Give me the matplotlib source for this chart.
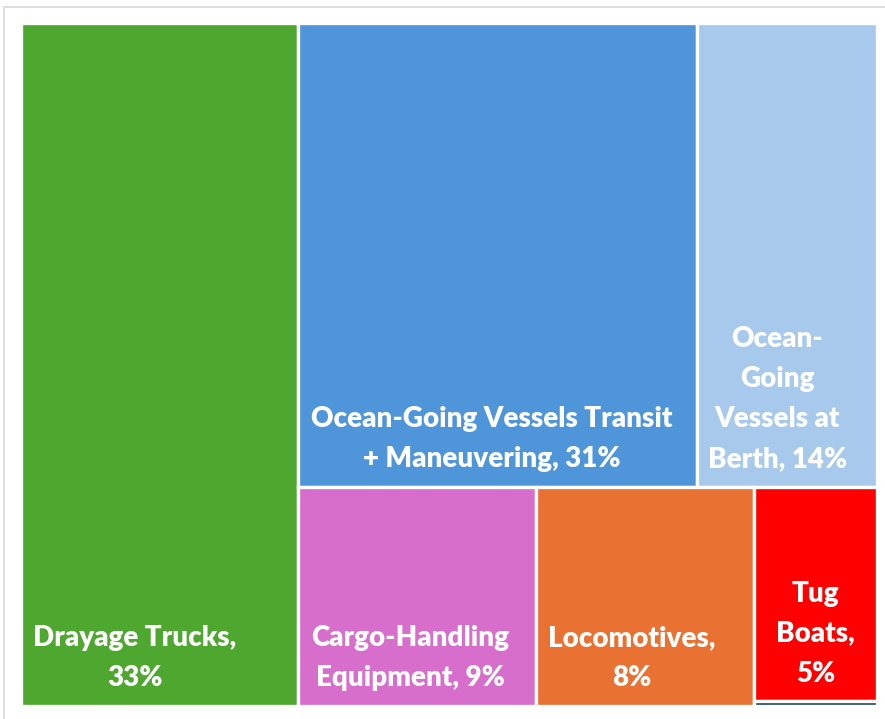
import matplotlib
matplotlib.use("Agg")
import matplotlib.pyplot as plt
from matplotlib.patches import Rectangle

# ---- data ----
categories = ["Drayage Trucks", "Ocean-Going Vessels Transit + Maneuvering",
              "Ocean-Going Vessels at Berth", "Cargo-Handling Equipment",
              "Locomotives", "Tug Boats", "Other"]
values = [32.4, 31.6, 14.3, 8.9, 8.2, 4.5, 0.1]
pct_labels = ["33%", "31%", "14%", "9%", "8%", "5%", None]
labels = ["Drayage Trucks,\n{p}", "Ocean-Going Vessels Transit\n+ Maneuvering, {p}",
          "Ocean-\nGoing\nVessels at\nBerth, {p}", "Cargo-Handling\nEquipment, {p}",
          "Locomotives,\n{p}", "Tug\nBoats,\n{p}", None]
colors = ["#4EA72E", "#4E95D9", "#A6C9EC", "#D86ECC", "#E97132", "#FF0000", "#1E4B5F"]
label_pad_px = [12, 13, 11, 13, 12, 22, 0]

W, H = 8.85, 7.19
fig = plt.figure(figsize=(W, H), dpi=100)
# outer light frame
fig.patches.append(Rectangle((4 / 885, -0.05), 1.0, (719 - 7) / 719 + 0.05,
                             transform=fig.transFigure, fill=False,
                             edgecolor="#D9D9D9", linewidth=1.2))
ax = fig.add_axes([21 / 885, 13 / 719, 856 / 885, 683 / 719])
AW, AH = 856.0, 683.0
ax.set_xlim(0, AW)
ax.set_ylim(0, AH)
ax.axis("off")

total = sum(values)
v = [x / total for x in values]

rects = []
# Drayage column
wd = AW * v[0]
rects.append((0, 0, wd, AH))
RW = AW - wd
rest = sum(v[1:])
# top row: transit + berth
top = (v[1] + v[2]) / rest
th = AH * top
x = wd
for i in (1, 2):
    w = RW * v[i] / (v[1] + v[2])
    rects.append((x, AH - th, w, th))
    x += w
# bottom row: cargo, loco, (tug / other) column
bh = AH - th
bot = v[3] + v[4] + v[5] + v[6]
x = wd
for i in (3, 4):
    w = RW * v[i] / bot
    rects.append((x, 0, w, bh))
    x += w
wc = RW * (v[5] + v[6]) / bot
ho = bh * v[6] / (v[5] + v[6])
rects.append((x, ho, wc, bh - ho))
rects.append((x, 0, wc, ho))

for (rx, ry, rw, rh), c in zip(rects, colors):
    ax.add_patch(Rectangle((rx, ry), rw, rh, facecolor=c, edgecolor="white",
                           linewidth=2.4, clip_on=False))

for (rx, ry, rw, rh), lab, p, pad in zip(rects, labels, pct_labels, label_pad_px):
    if lab is None:
        continue
    txt = lab.format(p=p)
    ax.annotate(txt, xy=(rx, ry), xytext=(pad * 0.72, 10.5), textcoords="offset points",
                ha="left", va="bottom", multialignment="center",
                color="white", fontsize=20, fontweight="heavy",
                family=["Lato", "DejaVu Sans"], linespacing=1.67)

fig.savefig("out.png", dpi=100)
